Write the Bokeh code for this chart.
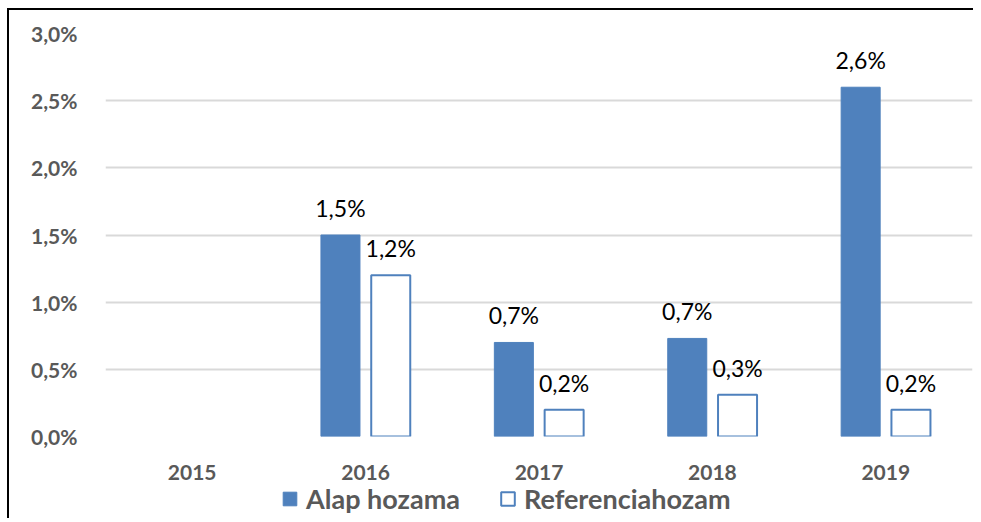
import math
from bokeh.plotting import figure
from bokeh.layouts import column
from bokeh.models import (ColumnDataSource, FactorRange, Range1d, FixedTicker,
                          Legend, LegendItem, LabelSet)
from bokeh.core.properties import value
from bokeh.transform import dodge
from bokeh.embed import file_html
from bokeh.resources import INLINE

years = ["2015", "2016", "2017", "2018", "2019"]
alap_hozama = [float("nan"), 1.5, 0.7, 0.73, 2.6]
referenciahozam = [float("nan"), 1.2, 0.2, 0.31, 0.2]
y_ticks = [0.0, 0.5, 1.0, 1.5, 2.0, 2.5, 3.0]
y_tick_labels = ["0,0%", "0,5%", "1,0%", "1,5%", "2,0%", "2,5%", "3,0%"]
series_names = ["Alap hozama", "Referenciahozam"]

BLUE = "#4F81BD"
GRAY = "#595959"
FONT = "Lato"


def fmt(v):
    return "" if math.isnan(v) else f"{v:.1f}".replace(".", ",") + "%"


src = ColumnDataSource(dict(
    x=years, a=alap_hozama, r=referenciahozam,
    al=[fmt(v) for v in alap_hozama], rl=[fmt(v) for v in referenciahozam],
    a0=[0 if math.isnan(v) else v for v in alap_hozama],
    r0=[0 if math.isnan(v) else v for v in referenciahozam],
))

p = figure(x_range=FactorRange(*years, range_padding=0), y_range=Range1d(0, 3.0),
           width=973, height=482, output_backend="svg", toolbar_location=None,
           min_border_left=105, min_border_right=1, min_border_top=33,
           min_border_bottom=45)
p.outline_line_color = None
p.border_fill_alpha = 0

p.xgrid.grid_line_color = None
p.ygrid.grid_line_color = "#D9D9D9"
p.ygrid.grid_line_width = 2
p.ygrid.ticker = FixedTicker(ticks=y_ticks)

bar_a = dict(fill_color=BLUE, line_color=BLUE)
bar_r = dict(fill_color="white", line_color=BLUE, line_width=2)

p.vbar(x=dodge("x", -0.145, range=p.x_range), top="a", width=0.225,
       source=src, **bar_a)
p.vbar(x=dodge("x", 0.145, range=p.x_range), top="r", width=0.225,
       source=src, **bar_r)

for col, lab, off in (("a0", "al", -0.145), ("r0", "rl", 0.145)):
    p.add_layout(LabelSet(x=dodge("x", off, range=p.x_range), y=col, text=lab,
                          source=src, text_align="center",
                          text_baseline="alphabetic", y_offset=18,
                          text_font=value(FONT), text_font_size="23px",
                          text_color="black"))

p.yaxis.ticker = FixedTicker(ticks=y_ticks)
p.yaxis.major_label_overrides = {t: l for t, l in zip(y_ticks, y_tick_labels)}
for ax in (p.xaxis, p.yaxis):
    ax.axis_line_color = None
    ax.major_tick_line_color = None
    ax.minor_tick_line_color = None
    ax.major_label_text_font = FONT
    ax.major_label_text_font_style = "bold"
    ax.major_label_text_color = GRAY
    ax.major_label_text_font_size = "21px"
p.yaxis.major_label_standoff = 22
p.xaxis.major_label_standoff = 22

# legend strip below the chart (its frame is aligned with the chart's frame)
pl = figure(x_range=Range1d(0, 1), y_range=Range1d(0, 1), width=973, height=36,
            output_backend="svg", toolbar_location=None,
            x_axis_type=None, y_axis_type=None, min_border=0)
pl.outline_line_color = None
pl.border_fill_alpha = 0
pl.background_fill_alpha = 0
pl.grid.visible = False
blank = ColumnDataSource(dict(x=[float("nan")], top=[float("nan")]))
l1 = pl.vbar(x="x", top="top", width=0.1, source=blank, **bar_a)
l2 = pl.vbar(x="x", top="top", width=0.1, source=blank, **bar_r)

legend = Legend(items=[LegendItem(label=series_names[0], renderers=[l1]),
                       LegendItem(label=series_names[1], renderers=[l2])],
                orientation="horizontal", location=(176, 3))
legend.border_line_color = None
legend.background_fill_alpha = 0
legend.label_text_font = FONT
legend.label_text_font_size = "27px"
legend.label_text_font_style = "bold"
legend.label_text_color = GRAY
legend.glyph_width = 17
legend.glyph_height = 17
legend.spacing = 39
legend.label_standoff = 8
legend.padding = 0
legend.margin = 0
pl.add_layout(legend, "center")

layout = column(p, pl, spacing=0)
layout.styles = {"background": "linear-gradient(#000,#000) 7px 8px / 2px 100% no-repeat, "
                               "linear-gradient(#000,#000) 7px 8px / 100% 2px no-repeat, #fff"}

open("out.html", "w").write(file_html(layout, INLINE))
